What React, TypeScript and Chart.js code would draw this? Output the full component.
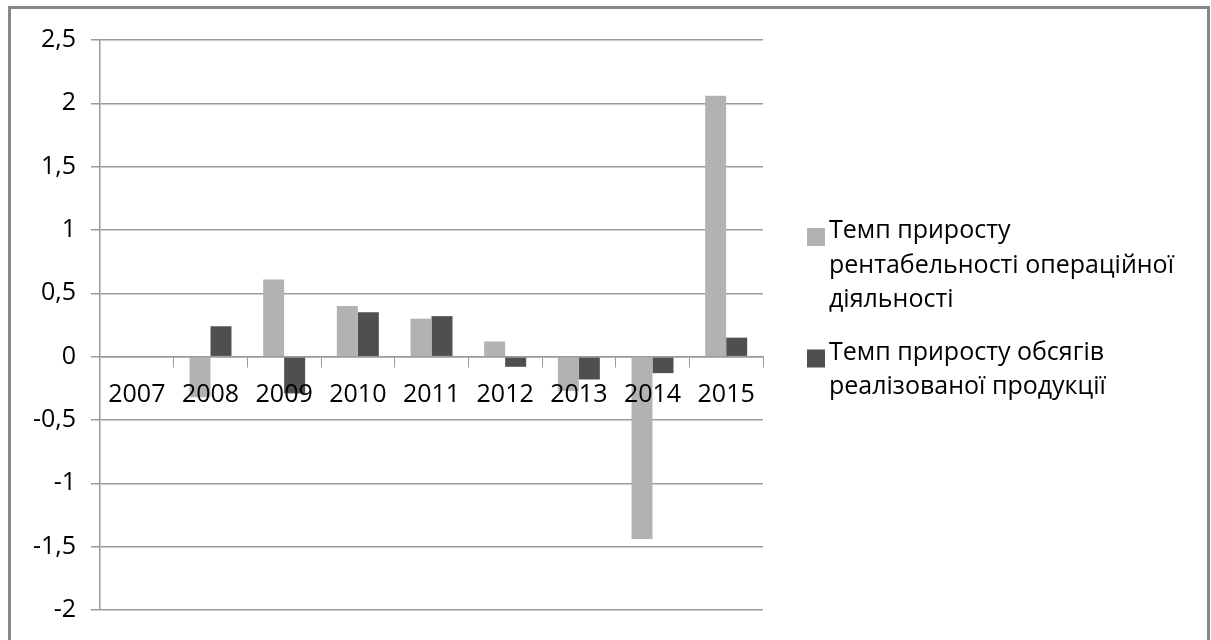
import React, { useEffect, useRef } from "react";
import { Chart, registerables } from "chart.js";

Chart.register(...registerables);

const categories = ["2007", "2008", "2009", "2010", "2011", "2012", "2013", "2014", "2015"];
const profitabilityGrowth = [0, -0.32, 0.61, 0.4, 0.3, 0.12, -0.27, -1.44, 2.06];
const salesVolumeGrowth = [0, 0.24, -0.29, 0.35, 0.32, -0.08, -0.18, -0.13, 0.15];
const seriesNameLines = [
  ["Темп приросту", "рентабельності операційної", "діяльності"],
  ["Темп приросту обсягів", "реалізованої продукції"],
];
const seriesColors = ["#b2b2b2", "#4f4f4f"];
const yMin = -2;
const yMax = 2.5;
const yStep = 0.5;

const FONT = "'Open Sans', 'Noto Sans', sans-serif";
const FONT_SIZE = 25;

const legendPlugin = {
  id: "sideLegend",
  afterDraw(chart: any) {
    const ctx = chart.ctx;
    ctx.save();
    ctx.font = `${FONT_SIZE}px ${FONT}`;
    ctx.textBaseline = "alphabetic";
    ctx.textAlign = "left";
    const lineH = 34.5;
    const x = chart.chartArea.right + 44;
    let baseline = 238;
    chart.data.datasets.forEach((ds: any, i: number) => {
      const lines: string[] = ds.legendLines;
      ctx.fillStyle = ds.backgroundColor;
      ctx.fillRect(x, baseline - 10, 18, 18);
      ctx.fillStyle = "#000";
      lines.forEach((ln, j) => {
        ctx.fillText(ln, x + 22, baseline + j * lineH);
      });
      baseline += lines.length * lineH + 18;
    });
    ctx.restore();
  },
};

export default function App() {
  const ref = useRef<HTMLCanvasElement>(null);
  useEffect(() => {
    if (!ref.current) return;
    const chart = new Chart(ref.current, {
      type: "bar",
      data: {
        labels: categories,
        datasets: [
          {
            label: seriesNameLines[0].join(" "),
            legendLines: seriesNameLines[0],
            data: profitabilityGrowth,
            backgroundColor: seriesColors[0],
            categoryPercentage: 0.57,
            barPercentage: 1,
          } as any,
          {
            label: seriesNameLines[1].join(" "),
            legendLines: seriesNameLines[1],
            data: salesVolumeGrowth,
            backgroundColor: seriesColors[1],
            categoryPercentage: 0.57,
            barPercentage: 1,
          } as any,
        ],
      },
      options: {
        responsive: false,
        animation: false,
        events: [],
        layout: { padding: { left: 0, right: 448, top: 40, bottom: 30 } },
        plugins: {
          legend: { display: false },
          tooltip: { enabled: false },
          title: { display: false },
        },
        scales: {
          x: {
            position: { y: 0 } as any,
            grid: {
              drawOnChartArea: false,
              drawTicks: true,
              tickLength: 10,
              color: "#9a9a9a",
              lineWidth: 1,
              offset: true,
              z: 1,
            },
            border: { display: true, color: "#9a9a9a", width: 1.5, z: 1 },
            ticks: {
              z: 2,
              color: "#000",
              font: { family: FONT, size: FONT_SIZE },
              padding: 13,
              maxRotation: 0,
              autoSkip: false,
            },
          },
          y: {
            min: yMin,
            max: yMax,
            afterFit(scale: any) {
              scale.width = 100;
            },
            grid: {
              color: "#9a9a9a",
              lineWidth: 1.5,
              tickLength: 9,
              drawTicks: true,
            },
            border: { display: true, color: "#9a9a9a", width: 1.5 },
            ticks: {
              stepSize: yStep,
              color: "#000",
              font: { family: FONT, size: FONT_SIZE },
              padding: 15,
              callback: (v: any) => String(v).replace(".", ","),
            },
          },
        },
      },
      plugins: [legendPlugin],
    });
    return () => chart.destroy();
  }, []);

  return (
    <div style={{ position: "fixed", left: 0, top: 0, width: 1211, height: 640, background: "#fff", overflow: "hidden" }}>
      <div
        style={{
          position: "absolute",
          left: 8,
          top: 6,
          width: 1202,
          height: 700,
          boxSizing: "border-box",
          border: "3px solid #878787",
        }}
      />
      <canvas ref={ref} width={1211} height={640} style={{ position: "absolute", left: 0, top: 0 }} />
    </div>
  );
}
